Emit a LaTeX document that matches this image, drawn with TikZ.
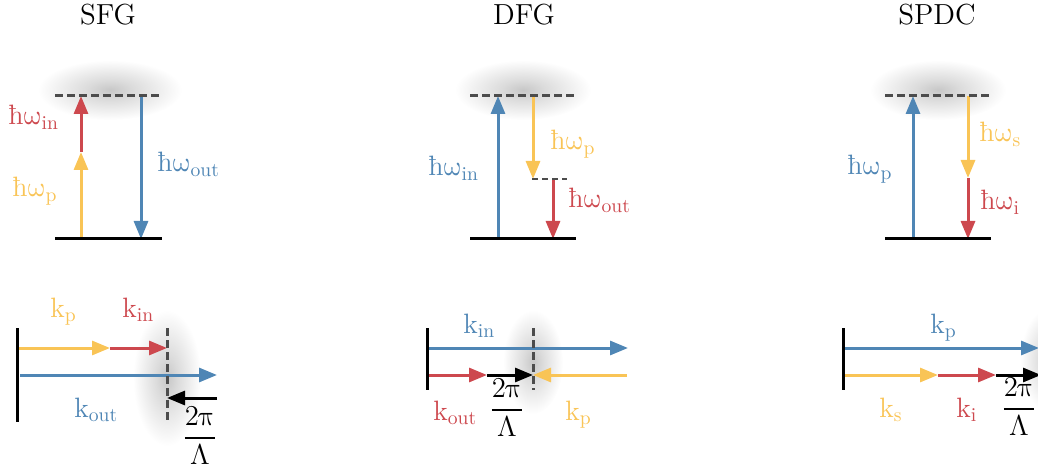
\documentclass[tikz,border=0pt]{standalone}
\usepackage{amsmath}
\usepackage{fontspec}
\usetikzlibrary{arrows.meta}
\newfontfamily\lmm{Latin Modern Math}
\definecolor{cblue}{RGB}{79,134,181}
\definecolor{cred}{RGB}{205,72,78}
\definecolor{cyel}{RGB}{249,196,86}
\pgfdeclareradialshading{blur}{\pgfpointorigin}{color(0bp)=(black!22); color(8bp)=(black!14); color(25bp)=(white); color(50bp)=(white)}
\newcommand{\hw}[1]{ħ{\lmm ω}$_{\mathrm{#1}}$}
\newcommand{\kv}[1]{k$_{\mathrm{#1}}$}
\newcommand{\grat}{$\dfrac{2\text{\lmm π}}{\Lambda}$}

\begin{document}
\begin{tikzpicture}[x=0.5pt, y=-0.5pt,
    font=\fontsize{14}{17}\selectfont,
    lvl/.style={line width=1.5pt},
    virt/.style={line width=1.5pt, black!70, dash pattern=on 4pt off 2pt},
    arr/.style={line width=1.5pt, -{Triangle[length=9pt,width=7pt]}},
    lbl/.style={anchor=base west, inner sep=0pt},
    ttl/.style={anchor=base, inner sep=0pt, font=\fontsize{14.5}{17}\selectfont},
    glow/.style={shading=blur}]
  \useasboundingbox (0,0) rectangle (1038,470);
  \clip (0,0) rectangle (1038,470);
  % soft shadows
  \shade[glow] (110,90) ellipse [x radius=72, y radius=30];
  \shade[glow] (523,90) ellipse [x radius=68, y radius=30];
  \shade[glow] (938,90) ellipse [x radius=68, y radius=30];
  \shade[glow] (167,378) ellipse [x radius=34, y radius=68];
  \shade[glow] (533,362) ellipse [x radius=30, y radius=52];
  \shade[glow] (1050,360) ellipse [x radius=30, y radius=52];

  % titles
  \node[ttl] (t1) at (108,25) {SFG};
  \node[ttl] (t2) at (524,25) {DFG};
  \node[ttl] (t3) at (937,25) {SPDC};

  % SFG energy levels
  \coordinate (a-gl) at (55,239);  \coordinate (a-gr) at (162,239);
  \coordinate (a-vl) at (55,96);   \coordinate (a-vr) at (162,96);
  \coordinate (a-p0) at (81,239);  \coordinate (a-p1) at (81,152);
  \coordinate (a-p2) at (81,96);
  \coordinate (a-o0) at (141,96);  \coordinate (a-o1) at (141,239);
  \draw[arr, cyel] (a-p0) -- (a-p1);
  \draw[arr, cred] (a-p1) -- (a-p2);
  \draw[arr, cblue] (a-o0) -- (a-o1);
  \draw[lvl] (a-gl) -- (a-gr);
  \draw[virt] (a-vl) -- (a-vr);
  \node[lbl, text=cred] (a-lin) at (8,125) {\hw{in}};
  \node[lbl, text=cyel] (a-lp) at (12,197) {\hw{p}};
  \node[lbl, text=cblue] (a-lout) at (157,172) {\hw{out}};

  % DFG energy levels
  \coordinate (b-gl) at (470,239); \coordinate (b-gr) at (576,239);
  \coordinate (b-vl) at (470,96);  \coordinate (b-vr) at (576,96);
  \coordinate (b-ml) at (532,179); \coordinate (b-mr) at (567,179);
  \coordinate (b-i0) at (498,239); \coordinate (b-i1) at (498,96);
  \coordinate (b-p0) at (533,96);  \coordinate (b-p1) at (533,179);
  \coordinate (b-o0) at (553,179); \coordinate (b-o1) at (553,239);
  \draw[arr, cblue] (b-i0) -- (b-i1);
  \draw[arr, cyel] (b-p0) -- (b-p1);
  \draw[arr, cred] (b-o0) -- (b-o1);
  \draw[lvl] (b-gl) -- (b-gr);
  \draw[virt] (b-vl) -- (b-vr);
  \draw[virt, line width=1.2pt, dash pattern=on 3pt off 2pt] (b-ml) -- (b-mr);
  \node[lbl, text=cyel] (b-lp) at (550,150) {\hw{p}};
  \node[lbl, text=cblue] (b-lin) at (428,176) {\hw{in}};
  \node[lbl, text=cred] (b-lout) at (568,208) {\hw{out}};

  % SPDC energy levels
  \coordinate (c-gl) at (885,239); \coordinate (c-gr) at (991,239);
  \coordinate (c-vl) at (885,96);  \coordinate (c-vr) at (991,96);
  \coordinate (c-p0) at (913,239); \coordinate (c-p1) at (913,96);
  \coordinate (c-s0) at (968,96);  \coordinate (c-s1) at (968,178);
  \coordinate (c-i1) at (968,239);
  \draw[arr, cblue] (c-p0) -- (c-p1);
  \draw[arr, cyel] (c-s0) -- (c-s1);
  \draw[arr, cred] (c-s1) -- (c-i1);
  \draw[lvl] (c-gl) -- (c-gr);
  \draw[virt] (c-vl) -- (c-vr);
  \node[lbl, text=cyel] (c-ls) at (979,142) {\hw{s}};
  \node[lbl, text=cblue] (c-lp) at (847,175) {\hw{p}};
  \node[lbl, text=cred] (c-li) at (980,210) {\hw{i}};

  % SFG phase matching
  \coordinate (d-wt) at (17,328);  \coordinate (d-wb) at (17,422);
  \coordinate (d-gt) at (167,328); \coordinate (d-gb) at (167,421);
  \coordinate (d-p0) at (17,348);  \coordinate (d-p1) at (110,348);
  \coordinate (d-p2) at (167,348);
  \coordinate (d-o0) at (20,375);  \coordinate (d-o1) at (217,375);
  \coordinate (d-k0) at (217,398); \coordinate (d-k1) at (167,398);
  \draw[arr, cyel] (d-p0) -- (d-p1);
  \draw[arr, cred] (d-p1) -- (d-p2);
  \draw[arr, cblue] (d-o0) -- (d-o1);
  \draw[arr, black] (d-k0) -- (d-k1);
  \draw[lvl] (d-wt) -- (d-wb);
  \draw[virt] (d-gt) -- (d-gb);
  \node[lbl, text=cyel] (d-lp) at (50,317) {\kv{p}};
  \node[lbl, text=cred] (d-lin) at (122,317) {\kv{in}};
  \node[lbl, text=cblue] (d-lout) at (74,417) {\kv{out}};
  \node[inner sep=0pt] (d-lk) at (200,436) {\grat};

  % DFG phase matching
  \coordinate (e-wt) at (427,328); \coordinate (e-wb) at (427,390);
  \coordinate (e-gt) at (533,328); \coordinate (e-gb) at (533,390);
  \coordinate (e-i0) at (427,348); \coordinate (e-i1) at (628,348);
  \coordinate (e-o0) at (427,375); \coordinate (e-o1) at (487,375);
  \coordinate (e-k1) at (533,375); \coordinate (e-p0) at (627,375);
  \draw[arr, cblue] (e-i0) -- (e-i1);
  \draw[arr, cred] (e-o0) -- (e-o1);
  \draw[arr, black] (e-o1) -- (e-k1);
  \draw[arr, cyel] (e-p0) -- (e-k1);
  \draw[lvl] (e-wt) -- (e-wb);
  \draw[virt] (e-gt) -- (e-gb);
  \node[lbl, text=cblue] (e-lin) at (463,333) {\kv{in}};
  \node[lbl, text=cred] (e-lout) at (433,420) {\kv{out}};
  \node[inner sep=0pt] (e-lk) at (507,408) {\grat};
  \node[lbl, text=cyel] (e-lp) at (565,420) {\kv{p}};

  % SPDC phase matching
  \coordinate (f-wt) at (843,328); \coordinate (f-wb) at (843,390);
  \coordinate (f-p0) at (843,348); \coordinate (f-p1) at (1039,348);
  \coordinate (f-s0) at (843,375); \coordinate (f-s1) at (938,375);
  \coordinate (f-i1) at (996,375); \coordinate (f-k1) at (1041,375);
  \draw[arr, cblue] (f-p0) -- (f-p1);
  \draw[arr, cyel] (f-s0) -- (f-s1);
  \draw[arr, cred] (f-s1) -- (f-i1);
  \draw[arr, black] (f-i1) -- (f-k1);
  \draw[lvl] (f-wt) -- (f-wb);
  \node[lbl, text=cblue] (f-lp) at (930,333) {\kv{p}};
  \node[lbl, text=cyel] (f-ls) at (879,417) {\kv{s}};
  \node[lbl, text=cred] (f-li) at (956,417) {\kv{i}};
  \node[inner sep=0pt] (f-lk) at (1019,407) {\grat};
\end{tikzpicture}
\end{document}
